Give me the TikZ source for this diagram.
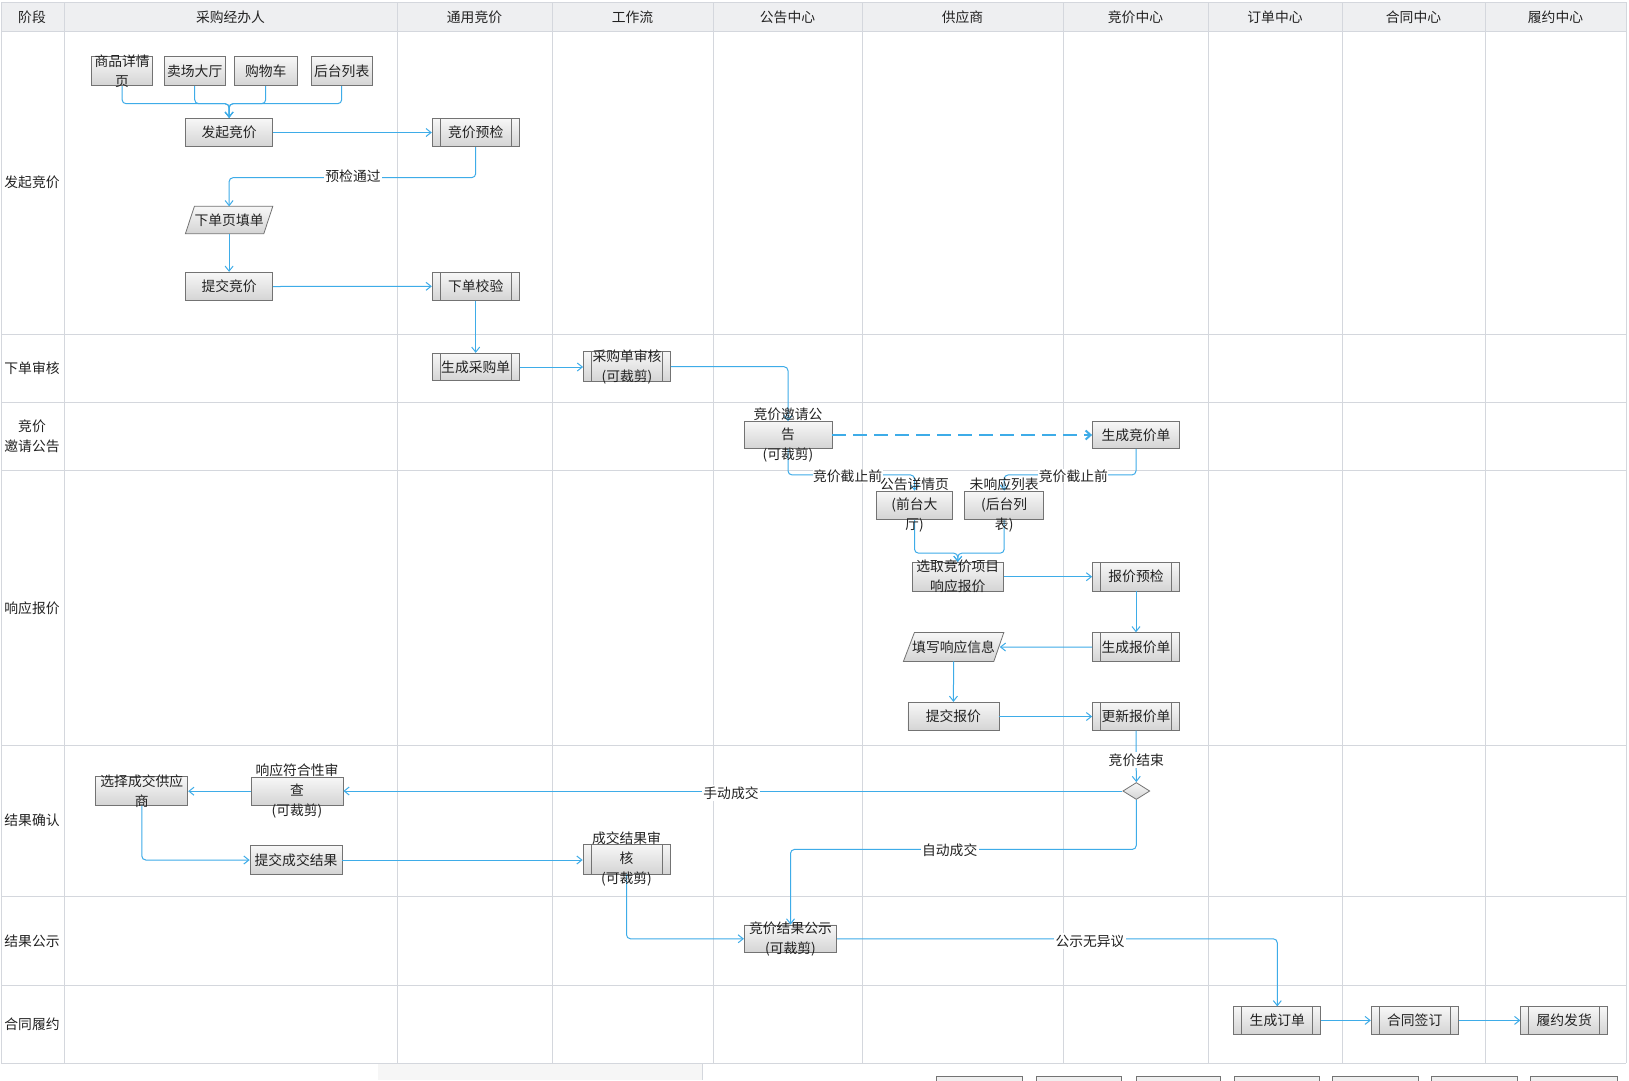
\documentclass[tikz,border=0pt]{standalone}
\usepackage{fontspec}
\setmainfont{Noto Sans CJK SC}
\usetikzlibrary{arrows.meta,shapes.geometric,calc}
\definecolor{flowblue}{RGB}{62,172,232}
\definecolor{gridc}{RGB}{212,215,221}
\definecolor{headfill}{RGB}{238,239,241}
\definecolor{boxline}{RGB}{115,115,115}
\definecolor{txtc}{RGB}{34,34,34}
\definecolor{boxtop}{RGB}{247,247,247}
\definecolor{boxbot}{RGB}{212,212,212}
\begin{document}
\begin{tikzpicture}[x=1pt,y=-1pt,
  every node/.style={text=txtc},
  tfont/.style={font=\fontsize{13.8}{20}\selectfont},
  box/.style={rectangle, draw=boxline, line width=0.8pt, top color=boxtop, bottom color=boxbot, inner sep=0pt},
  pbox/.style={box, path picture={
    \draw[boxline, line width=0.8pt] ([xshift=8pt]path picture bounding box.north west) -- ([xshift=8pt]path picture bounding box.south west);
    \draw[boxline, line width=0.8pt] ([xshift=-8pt]path picture bounding box.north east) -- ([xshift=-8pt]path picture bounding box.south east);}},
  ghost/.style={rectangle, draw=none, inner sep=0pt},
  txt/.style={tfont, align=center, inner sep=0pt},
  lbl/.style={tfont, fill=white, inner sep=1.5pt},
  conn/.style={draw=flowblue, line width=1pt, rounded corners=4pt},
  arr/.style={conn, -{Straight Barb[length=5pt,width=8pt]}},
  dasharr/.style={draw=flowblue, line width=2pt, dash pattern=on 14pt off 7pt, -{Straight Barb[length=5pt,width=9pt]}},
  hd/.style={tfont, inner sep=0pt},
  grid/.style={draw=gridc, line width=1pt}
]
\useasboundingbox (0,0) rectangle (1629,1080);
\fill[white] (0,0) rectangle (1629,1080);

% ---- table ----
\fill[headfill] (1,2) rectangle (1626,31);
\foreach \yy in {2,31,334.5,402,470.5,745,896,985.5,1063} {\draw[grid] (1,\yy) -- (1626,\yy);}
\foreach \xx in {1,64,397,552,713,862,1063,1208,1342,1485,1626} {\draw[grid] (\xx,2) -- (\xx,1063);}

% header
\node[hd] (h0) at (32,17) {阶段};
\node[hd] (h1) at (230.5,17) {采购经办人};
\node[hd] (h2) at (474.5,17) {通用竞价};
\node[hd] (h3) at (632.5,17) {工作流};
\node[hd] (h4) at (787.5,17) {公告中心};
\node[hd] (h5) at (962.5,17) {供应商};
\node[hd] (h6) at (1135.5,17) {竞价中心};
\node[hd] (h7) at (1275,17) {订单中心};
\node[hd] (h8) at (1413.5,17) {合同中心};
\node[hd] (h9) at (1555.5,17) {履约中心};

% row labels
\node[txt] (r1) at (32,182.5) {发起竞价};
\node[txt] (r2) at (32,368) {下单审核};
\node[txt] (r3) at (32,436) {竞价\\邀请公告};
\node[txt] (r4) at (32,608) {响应报价};
\node[txt] (r5) at (32,820.5) {结果确认};
\node[txt] (r6) at (32,941) {结果公示};
\node[txt] (r7) at (32,1024) {合同履约};

% ---- boxes ----
\node[box, minimum width=61pt, minimum height=29pt] (s1) at (122.1,71.2) {};
\node[box, minimum width=61pt, minimum height=29pt] (s2) at (194.7,71.2) {};
\node[box, minimum width=63pt, minimum height=29pt] (s3) at (265.7,71.2) {};
\node[box, minimum width=61pt, minimum height=29pt] (s4) at (341.7,71.2) {};
\node[txt] at (s1) {商品详情\\页};
\node[txt] at (s2) {卖场大厅};
\node[txt] at (s3) {购物车};
\node[txt] at (s4) {后台列表};

\node[box, minimum width=87pt, minimum height=28.5pt] (fq) at (229.1,132.5) {};
\node[txt] at (fq) {发起竞价};
\node[pbox, minimum width=87pt, minimum height=28.5pt] (yj) at (475.7,132.5) {};
\node[txt] at (yj) {竞价预检};

\node[ghost, minimum width=87pt, minimum height=27pt] (xd) at (229.1,220) {};
\path[draw=boxline, line width=0.8pt, top color=boxtop, bottom color=boxbot]
  ($(xd.north west)+(9,0)$) -- (xd.north east) -- ($(xd.south east)+(-9,0)$) -- (xd.south west) -- cycle;
\node[txt] at (xd) {下单页填单};

\node[box, minimum width=87pt, minimum height=28.5pt] (tj) at (229.1,286.5) {};
\node[txt] at (tj) {提交竞价};
\node[pbox, minimum width=87pt, minimum height=28pt] (xj) at (475.7,286.3) {};
\node[txt] at (xj) {下单校验};

\node[pbox, minimum width=87pt, minimum height=27.5pt] (sc) at (475.7,367) {};
\node[txt] at (sc) {生成采购单};
\node[pbox, minimum width=87pt, minimum height=30pt] (sh) at (627,366.7) {};
\node[txt] at (sh) {采购单审核\\(可裁剪)};

\node[box, minimum width=88pt, minimum height=27pt] (gg) at (788,435) {};
\node[box, minimum width=87pt, minimum height=27pt] (jd) at (1136,435) {};
\node[txt] at (jd) {生成竞价单};

\node[box, minimum width=75.6pt, minimum height=28.3pt] (xq) at (914.5,505.2) {};
\node[box, minimum width=79pt, minimum height=28.3pt] (wx) at (1004.2,505.2) {};

\node[box, minimum width=91.6pt, minimum height=28.7pt] (xz) at (957.8,576.7) {};
\node[pbox, minimum width=87pt, minimum height=28.7pt] (bj) at (1136,576.7) {};
\node[txt] at (bj) {报价预检};

\node[ghost, minimum width=100pt, minimum height=28.5pt] (tx) at (953.6,647) {};
\path[draw=boxline, line width=0.8pt, top color=boxtop, bottom color=boxbot]
  ($(tx.north west)+(11,0)$) -- (tx.north east) -- ($(tx.south east)+(-10,0)$) -- (tx.south west) -- cycle;
\node[txt] at (tx) {填写响应信息};
\node[pbox, minimum width=87pt, minimum height=29pt] (bd) at (1136,647.2) {};
\node[txt] at (bd) {生成报价单};

\node[box, minimum width=91pt, minimum height=28.4pt] (tb) at (953.4,716.5) {};
\node[txt] at (tb) {提交报价};
\node[pbox, minimum width=87pt, minimum height=28pt] (gx) at (1136,716.2) {};
\node[txt] at (gx) {更新报价单};

\node[diamond, draw=boxline, line width=0.8pt, top color=boxtop, bottom color=boxbot, inner sep=0pt, minimum width=27pt, minimum height=17pt] (dm) at (1136.3,791) {};

\node[box, minimum width=92pt, minimum height=28.3pt] (xs) at (141.8,791) {};
\node[box, minimum width=92pt, minimum height=27.7pt] (fh) at (297,791.2) {};
\node[box, minimum width=92pt, minimum height=28.3pt] (tc) at (296,860) {};
\node[txt] at (tc) {提交成交结果};
\node[pbox, minimum width=87pt, minimum height=29.7pt] (cs) at (626.5,859.2) {};

\node[box, minimum width=92.4pt, minimum height=27.7pt] (gs) at (790.5,938.8) {};

\node[pbox, minimum width=87pt, minimum height=27.3pt] (dd) at (1277.3,1020.4) {};
\node[txt] at (dd) {生成订单};
\node[pbox, minimum width=87pt, minimum height=27.3pt] (ht) at (1414.7,1020.4) {};
\node[txt] at (ht) {合同签订};
\node[pbox, minimum width=87pt, minimum height=27.3pt] (ly) at (1564.2,1020.4) {};
\node[txt] at (ly) {履约发货};

% ---- connectors ----
\draw[arr] (s1.south) -- ++(0,17.6) -| (fq.north);
\draw[arr] (s2.south) -- ++(0,17.6) -| (fq.north);
\draw[arr] (s3.south) -- ++(0,17.6) -| (fq.north);
\draw[arr] (s4.south) -- ++(0,17.6) -| (fq.north);
\draw[arr] (fq.east) -- (yj.west);
\draw[arr] (yj.south) -- ++(0,30.5) -| (xd.north);
\node[lbl] (l1) at (353,176.5) {预检通过};
\draw[arr] (xd.south) -- (tj.north);
\draw[arr] (tj.east) -- (xj.west);
\draw[arr] (xj.south) -- (sc.north);
\draw[arr] (sc.east) -- (sc.east -| sh.west);
\draw[arr] (sh.east) -| (gg.north);
\draw[dasharr] (gg.east) -- (jd.west);
\draw[arr] (gg.south) -- ++(0,26) -| (xq.north);
\draw[arr] (jd.south) -- ++(0,26) -| (wx.north);
\node[lbl, inner sep=0.5pt] (l2) at (847.6,476) {竞价截止前};
\node[lbl, inner sep=0.5pt] (l3) at (1073.4,476) {竞价截止前};
\draw[arr] (xq.south) -- ++(0,33.4) -| (xz.north);
\draw[arr] (wx.south) -- ++(0,33.4) -| (xz.north);
\draw[arr] (xz.east) -- (bj.west);
\draw[arr] (bj.south) -- (bd.north);
\draw[arr] (bd.west) -- ($(tx.east)+(-4,0)$);
\draw[arr] (tx.south) -- (tb.north);
\draw[arr] (tb.east) -- (tb.east -| gx.west);
\draw[arr] (gx.south) -- (dm.north);
\node[lbl] (l4) at (1136.3,760) {竞价结束};
\draw[arr] (dm.west) -- (dm.west -| fh.east);
\node[lbl] (l5) at (731,793) {手动成交};
\draw[arr] (fh.west) -- (fh.west -| xs.east);
\draw[arr] (xs.south) |- (tc.west);
\draw[arr] (tc.east) -- (tc.east -| cs.west);
\draw[arr] (dm.south) -- ++(0,49.5) -| (gs.north);
\node[lbl] (l6) at (949.7,850.5) {自动成交};
\draw[arr] (cs.south) |- (gs.west);
\draw[arr] (gs.east) -| (dd.north);
\node[lbl] (l7) at (1090,941) {公示无异议};
\draw[arr] (dd.east) -- (ht.west);
\draw[arr] (ht.east) -- (ly.west);

% overflowing texts (drawn on top of connectors)
\node[txt] at (gg) {竞价邀请公\\告\\(可裁剪)};
\node[txt] at (xq) {公告详情页\\(前台大\\厅)};
\node[txt] at (wx) {未响应列表\\(后台列\\表)};
\node[txt] at (xz) {选取竞价项目\\响应报价};
\node[txt] at (xs) {选择成交供应\\商};
\node[txt] at (fh) {响应符合性审\\查\\(可裁剪)};
\node[txt] at (cs) {成交结果审\\核\\(可裁剪)};
\node[txt] at (gs) {竞价结果公示\\(可裁剪)};

% ---- cut-off remnants at the bottom edge ----
\fill[gray!7] (378,1064) rectangle (702,1080);
\draw[gridc, line width=1pt] (702,1064) -- (702,1080);
\foreach \a/\b in {936.7/1022.7,1036.7/1121,1136/1220.5,1234.5/1319,1332.7/1418.6,1431/1517,1530.8/1617} {
  \filldraw[draw=boxline, fill=gray!12, line width=0.8pt] (\a,1081) -- (\a,1076) -- (\b,1076) -- (\b,1081);
}
\end{tikzpicture}
\end{document}
